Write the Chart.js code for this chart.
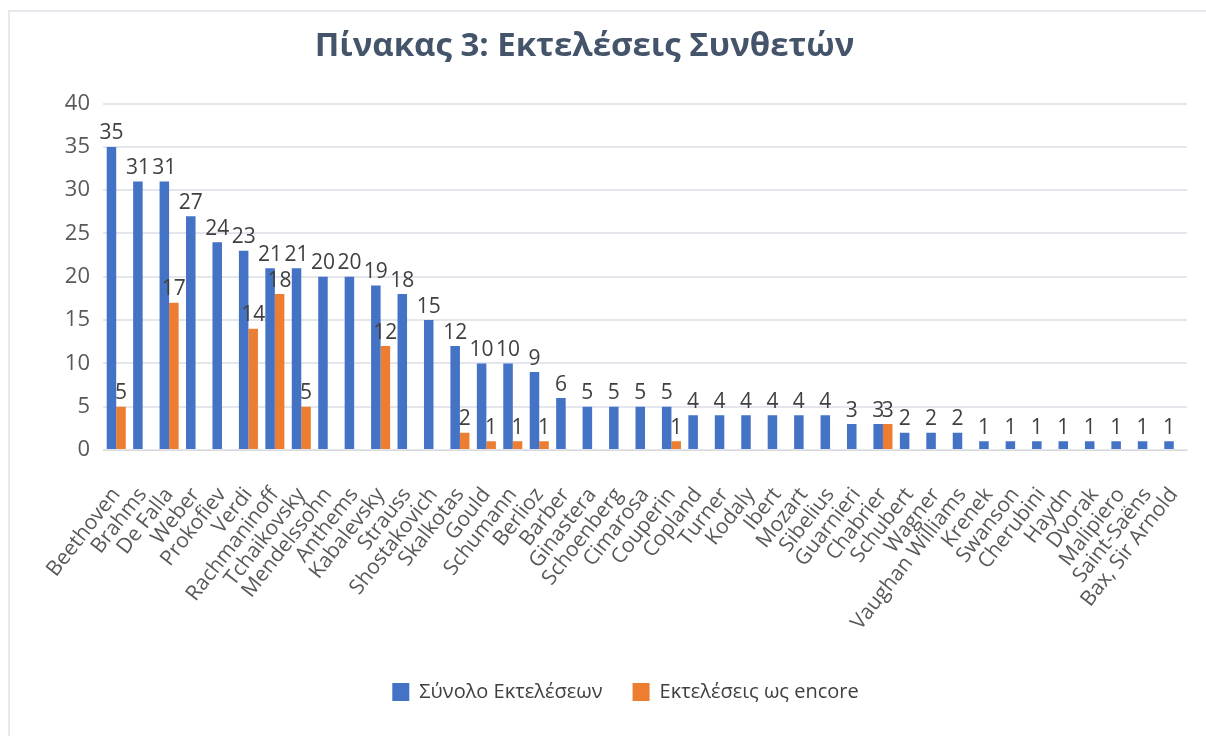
<!DOCTYPE html>
<html>
<head>
<meta charset="utf-8">
<script src="https://cdn.jsdelivr.net/npm/chart.js@4.4.0/dist/chart.umd.min.js"></script>
<style>
  html, body { margin: 0; padding: 0; background: #fff; }
  #wrap { position: relative; width: 1206px; height: 736px; }
</style>
</head>
<body>
<div id="wrap"><canvas id="chart_composers"></canvas></div>
<script>
var composers = [
  'Beethoven', 'Brahms', 'De Falla', 'Weber', 'Prokofiev', 'Verdi', 'Rachmaninoff', 'Tchaikovsky',
  'Mendelssohn', 'Anthems', 'Kabalevsky', 'Strauss', 'Shostakovich', 'Skalkotas', 'Gould', 'Schumann',
  'Berlioz', 'Barber', 'Ginastera', 'Schoenberg', 'Cimarosa', 'Couperin', 'Copland', 'Turner',
  'Kodaly', 'Ibert', 'Mozart', 'Sibelius', 'Guarnieri', 'Chabrier', 'Schubert', 'Wagner',
  'Vaughan Williams', 'Krenek', 'Swanson', 'Cherubini', 'Haydn', 'Dvorak', 'Malipiero', 'Saint-Saëns',
  'Bax, Sir Arnold'
];
var totalPerformances = [
  35, 31, 31, 27, 24, 23, 21, 21, 20, 20, 19, 18, 15, 12, 10, 10, 9, 6, 5, 5, 5, 5,
  4, 4, 4, 4, 4, 4, 3, 3, 2, 2, 2, 1, 1, 1, 1, 1, 1, 1, 1
];
var encorePerformances = [
  5, null, 17, null, null, 14, 18, 5, null, null, 12, null, null, 2, 1, 1, 1, null, null, null, null, 1,
  null, null, null, null, null, null, null, 3, null, null, null, null, null, null, null, null, null, null, null
];
var yTicks = [0, 5, 10, 15, 20, 25, 30, 35, 40];

var fontFamily = '"Open Sans", "Noto Sans", sans-serif';

var chart_composers = new Chart(document.getElementById('chart_composers'), {
    type: 'bar',
    data: {
        labels: composers,
        datasets: [
            {
                label: 'Σύνολο Εκτελέσεων',
                data: totalPerformances,
                backgroundColor: '#4472C4',
                borderWidth: 0
            },
            {
                label: 'Εκτελέσεις ως encore',
                data: encorePerformances,
                backgroundColor: '#ED7D31',
                borderWidth: 0
            }
        ]
    },
    options: {
        animation: false,
        responsive: true,
        maintainAspectRatio: false,
        datasets: {
            bar: {
                categoryPercentage: 0.72,
                barPercentage: 1.0
            }
        },
        layout: {
            padding: { left: 0, right: 19, top: 0, bottom: 24 }
        },
        plugins: {
            title: {
                display: true,
                text: 'Πίνακας 3: Εκτελέσεις Συνθετών',
                color: '#44546A',
                font: { family: fontFamily, size: 33, weight: 'bold' },
                padding: { top: 27, bottom: 37 }
            },
            legend: {
                position: 'bottom',
                labels: {
                    color: '#404040',
                    font: { family: fontFamily, size: 20 },
                    boxWidth: 17,
                    boxHeight: 18,
                    padding: 30
                }
            },
            tooltip: { enabled: false }
        },
        scales: {
            x: {
                grid: { display: false },
                border: { color: '#D9D9D9' },
                ticks: {
                    color: '#595959',
                    font: { family: fontFamily, size: 21 },
                    minRotation: 52,
                    maxRotation: 52,
                    autoSkip: false,
                    padding: 25
                },
                afterFit: function (scale) {
                    scale.height = 202;
                    // the plot spans the full width like the original; rotated labels may overhang
                    scale.paddingLeft = 0;
                    scale.paddingRight = 0;
                }
            },
            y: {
                min: 0,
                max: 40,
                afterBuildTicks: function (scale) {
                    scale.ticks = yTicks.map(function (v) { return { value: v }; });
                },
                grid: { color: '#E3E6EC', lineWidth: 2, drawTicks: false },
                border: { display: false },
                ticks: {
                    color: '#595959',
                    font: { family: fontFamily, size: 22 },
                    padding: 13
                },
                afterFit: function (scale) { scale.width = 103; }
            }
        }
    },
    plugins: [{
        id: 'backgroundAndFrame',
        afterLayout: (chart) => {
            // nudge title and legend to where the original places them
            chart.titleBlock.left -= 9;
            chart.titleBlock.right -= 9;
            chart.legend.left += 32;
            chart.legend.right += 32;
        },
        beforeDraw: (chart) => {
            const ctx = chart.ctx;
            ctx.save();
            ctx.fillStyle = 'white';
            ctx.fillRect(0, 0, chart.width, chart.height);
            ctx.strokeStyle = '#E6E9EE';
            ctx.lineWidth = 2;
            ctx.beginPath();
            ctx.moveTo(9, chart.height);
            ctx.lineTo(9, 11);
            ctx.lineTo(chart.width, 11);
            ctx.stroke();
            ctx.restore();
        }
    }, {
        id: 'valueLabels',
        afterDatasetsDraw: (chart) => {
            const ctx = chart.ctx;
            ctx.save();
            ctx.fillStyle = '#404040';
            ctx.font = '21px ' + fontFamily;
            ctx.textAlign = 'center';
            ctx.textBaseline = 'bottom';
            chart.data.datasets.forEach((ds, i) => {
                const meta = chart.getDatasetMeta(i);
                meta.data.forEach((bar, j) => {
                    const v = ds.data[j];
                    if (v === null || v === undefined) return;
                    ctx.fillText(String(v), bar.x, bar.y - 3);
                });
            });
            ctx.restore();
        }
    }]
});
</script>
</body>
</html>
